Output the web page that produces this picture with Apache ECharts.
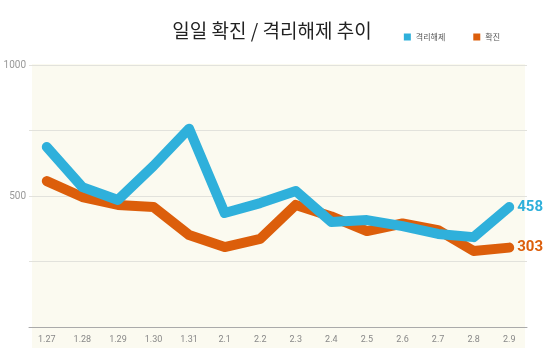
<!DOCTYPE html>
<html><head><meta charset="utf-8">
<script src="https://cdn.jsdelivr.net/npm/echarts@6/dist/echarts.min.js"></script>
<style>html,body{margin:0;padding:0;background:#fff}#c{width:550px;height:361px}</style>
</head><body><div id="c"></div>
<script>
const categories = ['1.27','1.28','1.29','1.30','1.31','2.1','2.2','2.3','2.4','2.5','2.6','2.7','2.8','2.9'];
const released = [687, 534, 485, 615, 757, 435, 473, 519, 401, 408, 385, 355, 343, 458];
const confirmed = [557, 496, 466, 458, 351, 305, 336, 466, 422, 366, 395, 370, 290, 303];
const yTickLabels = [500, 1000];
const titleText = '일일 확진 / 격리해제 추이';
const names = ['격리해제', '확진'];
const colors = ['#2fb0db', '#dc5e0b'];

const chart = echarts.init(document.getElementById('c'), null, {renderer: 'canvas'});
const endLabel = (color) => ({
  show: true, distance: 8, formatter: '{c}',
  color: color, fontSize: 15, fontWeight: 'bold', fontFamily: 'Roboto, Arial, sans-serif'
});
chart.setOption({
  animation: false,
  backgroundColor: '#ffffff',
  title: {
    text: titleText, left: 267, top: 16, textAlign: 'center',
    textStyle: {fontSize: 19, fontWeight: 'normal', color: '#222', fontFamily: '"Noto Sans CJK KR", sans-serif'}
  },
  legend: {
    data: names, right: 45, top: 28, itemWidth: 7, itemHeight: 7, itemGap: 28, icon: 'rect',
    textStyle: {fontSize: 8, color: '#555', fontFamily: '"Noto Sans CJK KR", sans-serif'}
  },
  graphic: [{type: 'rect', shape: {x: 32, y: 64, width: 493, height: 284}, style: {fill: '#fbfaf0'}, z: -10, silent: true}],
  grid: {left: 29, right: 23, top: 65, bottom: 34},
  xAxis: {
    type: 'category', data: categories, boundaryGap: true,
    axisLine: {lineStyle: {color: '#aaa', width: 1}},
    axisTick: {inside: true, length: 4, alignWithLabel: true, lineStyle: {color: '#999'}},
    axisLabel: {color: '#888', fontSize: 9, margin: 8, fontFamily: 'Roboto, Arial, sans-serif'}
  },
  yAxis: {
    type: 'value', min: 0, max: 1000, interval: 250,
    axisLine: {show: false}, axisTick: {show: false},
    splitLine: {lineStyle: {color: '#e2e2dc', width: 1}},
    axisLabel: {color: '#999', fontSize: 10, margin: 3, fontFamily: 'Roboto, Arial, sans-serif',
      formatter: v => yTickLabels.includes(v) ? String(v) : ''}
  },
  series: [
    {name: names[1], type: 'line', data: confirmed, symbol: 'none', z: 2,
     lineStyle: {color: colors[1], width: 10, cap: 'round', join: 'round'}, itemStyle: {color: colors[1]},
     endLabel: endLabel(colors[1])},
    {name: names[0], type: 'line', data: released, symbol: 'none', z: 3,
     lineStyle: {color: colors[0], width: 10, cap: 'round', join: 'round'}, itemStyle: {color: colors[0]},
     endLabel: endLabel(colors[0])}
  ]
});
</script></body></html>
